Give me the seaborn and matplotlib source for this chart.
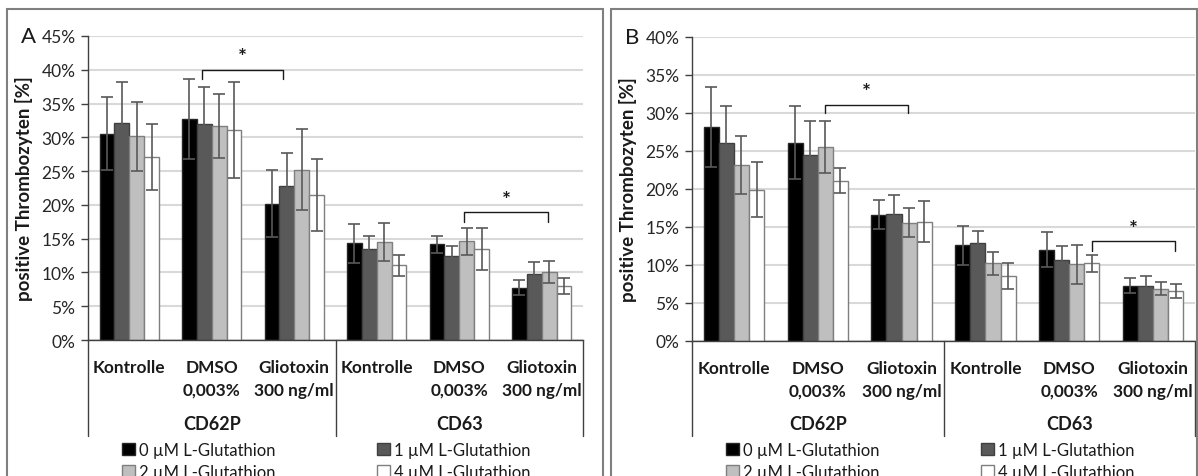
import numpy as np
import pandas as pd
import matplotlib
matplotlib.use("Agg")
import matplotlib.pyplot as plt
import matplotlib.transforms as mtransforms
from matplotlib.patches import Rectangle, Patch
from matplotlib.ticker import PercentFormatter, MultipleLocator
import seaborn as sns

# ---------------- data ----------------
groups = ["CD62P|Kontrolle", "CD62P|DMSO", "CD62P|Gliotoxin",
          "CD63|Kontrolle", "CD63|DMSO", "CD63|Gliotoxin"]
group_labels = ["Kontrolle", "DMSO\n0,003%", "Gliotoxin\n300 ng/ml",
                "Kontrolle", "DMSO\n0,003%", "Gliotoxin\n300 ng/ml"]
markers_lbl = ["CD62P", "CD63"]
concs = ["0 µM L-Glutathion", "1 µM L-Glutathion",
         "2 µM L-Glutathion", "4 µM L-Glutathion"]

# Panel A values (%), one list per concentration, order = groups
a_0 = [30.5, 32.7, 20.2, 14.3, 14.15, 7.75]
a_1 = [32.1, 32.0, 22.75, 13.5, 12.4, 9.7]
a_2 = [30.15, 31.7, 25.2, 14.5, 14.65, 10.1]
a_4 = [27.1, 31.1, 21.5, 11.05, 13.5, 8.0]
a_err_0 = [5.4, 5.9, 5.0, 2.85, 1.3, 1.1]
a_err_1 = [6.1, 5.5, 5.0, 1.95, 1.55, 1.8]
a_err_2 = [5.1, 4.75, 6.0, 2.8, 2.0, 1.65]
a_err_4 = [4.9, 7.1, 5.3, 1.6, 3.15, 1.15]

# Panel B values (%)
b_0 = [28.2, 26.1, 16.6, 12.6, 12.0, 7.3]
b_1 = [26.1, 24.5, 16.7, 12.85, 10.7, 7.2]
b_2 = [23.2, 25.5, 15.55, 10.2, 10.1, 6.9]
b_4 = [19.9, 21.1, 15.7, 8.6, 10.2, 6.6]
b_err_0 = [5.25, 4.8, 1.9, 2.55, 2.3, 0.95]
b_err_1 = [4.8, 4.5, 2.5, 1.65, 1.75, 1.35]
b_err_2 = [3.8, 3.45, 1.9, 1.55, 2.55, 0.8]
b_err_4 = [3.6, 1.6, 2.7, 1.7, 1.1, 0.9]

# significance brackets: (x_start, x_end, y_top, y_drop) in category / % units
brackets_a = [(0.88, 1.86, 40.0, 38.6), (4.06, 5.08, 18.9, 17.5)]
brackets_b = [(1.09, 2.08, 31.1, 30.0), (4.27, 5.26, 13.15, 11.9)]

colors = ["#000000", "#595959", "#bfbfbf", "#ffffff"]
edges = ["#262626", "#404040", "#7f7f7f", "#7f7f7f"]

# ---------------- style ----------------
sns.set_theme(style="white")
plt.rcParams["font.family"] = ["Lato", "DejaVu Sans"]
FS = 12

W, H = 1198, 477
fig = plt.figure(figsize=(W / 100, H / 100), dpi=100)


def px_axes(x0, x1, y_top, y_bot):
    return fig.add_axes([x0 / W, 1 - y_bot / H, (x1 - x0) / W, (y_bot - y_top) / H])


def draw_panel(ax, vals, errs, ymax, brackets, letter, x0_px, x1_px, y_top_px, y_bot_px):
    rows = []
    for c, v in zip(concs, vals):
        for g, val in zip(groups, v):
            rows.append({"group": g, "conc": c, "value": val})
    df = pd.DataFrame(rows)
    sns.barplot(data=df, x="group", y="value", hue="conc", order=groups,
                hue_order=concs, palette=colors, width=0.72, linewidth=1.0,
                edgecolor="#7f7f7f", errorbar=None, legend=False, ax=ax,
                saturation=1)
    for cont, ec, e in zip(ax.containers, edges, errs):
        xs = [p.get_x() + p.get_width() / 2 for p in cont.patches]
        ys = [p.get_height() for p in cont.patches]
        for p in cont.patches:
            p.set_edgecolor(ec)
        ax.errorbar(xs, ys, yerr=e, fmt="none", ecolor="#595959",
                    elinewidth=1.2, capsize=4, capthick=1.2, zorder=5)

    ax.set_xlim(-0.5, 5.5)
    ax.set_ylim(0, ymax)
    ax.yaxis.set_major_locator(MultipleLocator(5))
    ax.yaxis.set_major_formatter(PercentFormatter(decimals=0))
    ax.yaxis.grid(True, color="#d9d9d9", lw=1.5)
    ax.set_axisbelow(True)
    for s in ["top", "right"]:
        ax.spines[s].set_visible(False)
    for s in ["left", "bottom"]:
        ax.spines[s].set_color("#404040")
        ax.spines[s].set_linewidth(1.0)
    ax.tick_params(axis="y", which="major", length=5, width=1, color="#404040",
                   labelsize=FS + 0.5, labelcolor="#262626", pad=4, left=True)
    ax.set_xticks(range(6))
    ax.set_xticklabels(group_labels, fontsize=FS + 0.4, fontweight="bold",
                       color="#1a1a1a", va="top", linespacing=1.5)
    ax.tick_params(axis="x", length=0, pad=14)
    ax.set_xlabel("")
    ax.set_ylabel("positive Thrombozyten [%]", fontsize=FS + 1.5, fontweight="bold",
                  color="#1a1a1a", labelpad=6)

    w_px = x1_px - x0_px
    h_px = y_bot_px - y_top_px
    # category separators and marker group labels
    trans = mtransforms.blended_transform_factory(ax.transData, ax.transAxes)
    ybottom = -(437 - y_bot_px) / h_px
    for xsep in [-0.5, 2.5, 5.5]:
        ax.plot([xsep, xsep], [0, ybottom], transform=trans, color="#404040",
                lw=1.0, clip_on=False)
    ylab = -(425 - y_bot_px) / h_px
    for i, m in enumerate(markers_lbl):
        ax.text(1 + 3 * i, ylab, m, transform=trans, ha="center", va="center",
                fontsize=FS + 1, fontweight="bold", color="#1a1a1a")

    # significance brackets
    for x1, x2, yt, yd in brackets:
        ax.plot([x1, x1, x2, x2], [yd, yt, yt, yd], color="#1a1a1a", lw=1.0,
                clip_on=False, zorder=6)
        ax.text((x1 + x2) / 2, yt + ymax * 0.008, "*", ha="center", va="bottom",
                fontsize=FS + 3, fontweight="bold", color="#1a1a1a", zorder=6)

    # panel letter
    ax.text(-67 / w_px, 1.0, letter, transform=ax.transAxes, ha="left",
            va="center", fontsize=FS + 4, color="#1a1a1a")

    # legend (two columns placed explicitly)
    handles = [Patch(facecolor=c, edgecolor=e, lw=1.0) for c, e in zip(colors, edges)]
    yleg = -(462 - y_bot_px) / h_px
    kw = dict(loc="center left", frameon=False, fontsize=FS, handlelength=0.75,
              handleheight=0.75, handletextpad=0.25, borderpad=0, borderaxespad=0,
              labelspacing=0.35, labelcolor="#1a1a1a")
    leg1 = ax.legend([handles[0], handles[2]], [concs[0], concs[2]],
                     bbox_to_anchor=(34 / w_px, yleg), **kw)
    ax.add_artist(leg1)
    ax.legend([handles[1], handles[3]], [concs[1], concs[3]],
              bbox_to_anchor=(289 / w_px, yleg), **kw)


axA = px_axes(88, 583, 37, 341)
draw_panel(axA, [a_0, a_1, a_2, a_4], [a_err_0, a_err_1, a_err_2, a_err_4],
           45, brackets_a, "A", 88, 583, 37, 341)
axB = px_axes(692, 1195, 38, 342)
draw_panel(axB, [b_0, b_1, b_2, b_4], [b_err_0, b_err_1, b_err_2, b_err_4],
           40, brackets_b, "B", 692, 1195, 38, 342)

# panel frames
for x0, x1 in [(7, 603), (611, 1197)]:
    fig.add_artist(Rectangle((x0 / W, -0.1), (x1 - x0) / W, 1.1 - 10 / H,
                             transform=fig.transFigure, fill=False,
                             edgecolor="#7f7f7f", lw=1.5, clip_on=False))

fig.savefig("out.png", dpi=100)
